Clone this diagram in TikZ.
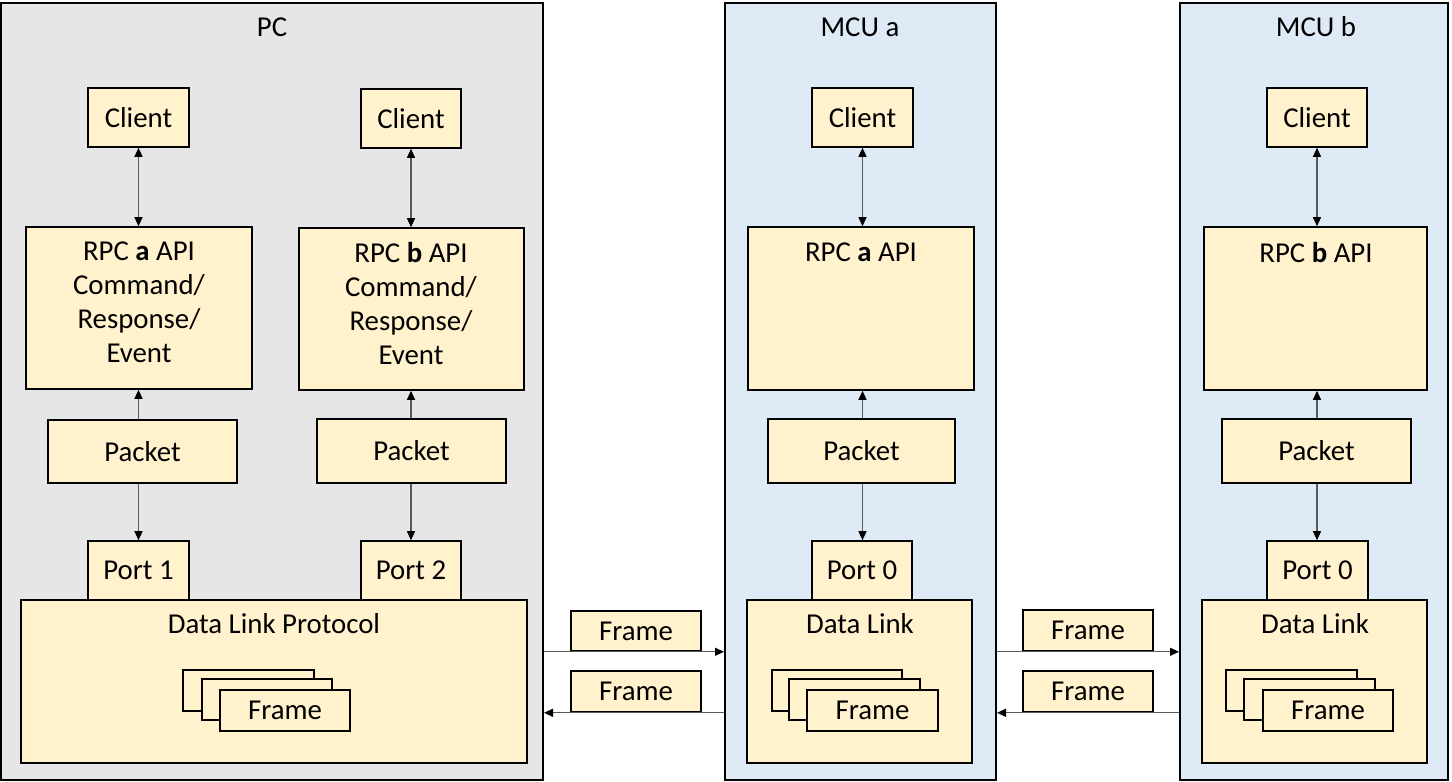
\documentclass[tikz,border=0pt]{standalone}
\usepackage{fontspec}
\setmainfont{Carlito}
\usetikzlibrary{fit,arrows.meta}
\definecolor{pcgray}{HTML}{E7E6E6}
\definecolor{mcublue}{HTML}{DEEBF7}
\definecolor{boxy}{HTML}{FFF2CC}
\definecolor{lineg}{HTML}{595959}
\begin{document}
\begin{tikzpicture}[x=0.5pt,y=-0.5pt,
  font=\fontsize{14.4pt}{17pt}\selectfont,
  panel/.style={draw=black, line width=1pt, inner sep=0pt},
  box/.style={draw=black, fill=boxy, line width=0.8pt, inner sep=0pt},
  txt/.style={inner sep=0pt, align=center},
  arr/.style={draw=lineg, line width=0.6pt, -{Triangle[length=4.5pt,width=4pt,color=black]}},
  darr/.style={draw=lineg, line width=0.6pt, {Triangle[length=4.5pt,width=4pt,color=black]}-{Triangle[length=4.5pt,width=4pt,color=black]}}]
\useasboundingbox (0,0) rectangle (1452,782);
% panels
\node[panel, fill=pcgray, fit={(1,3) (543,780)}] (pc) {};
\node[txt] (pct) at (272,27) {PC};
\node[panel, fill=mcublue, fit={(725,3) (996,780)}] (mcua) {};
\node[txt] (mcuat) at (860,27) {MCU a};
\node[panel, fill=mcublue, fit={(1180,3) (1448,780)}] (mcub) {};
\node[txt] (mcubt) at (1316,27) {MCU b};
% PC column 1
\node[box, fit={(88,88) (189,147)}, label={center:Client}] (cl1) {};
\node[box, fit={(26,227) (252,389)}] (rpc1) {};
\node[txt] (rpc1t) at (139,302) {RPC \textbf{a} API\\Command/\\Response/\\Event};
\node[box, fit={(48,420) (237,483)}, label={center:Packet}] (pk1) {};
\node[box, fit={(88,541) (189,600)}, label={center:Port 1}] (pt1) {};
% PC column 2
\node[box, fit={(361,89) (461,148)}, label={center:Client}] (cl2) {};
\node[box, fit={(299,228) (524,390)}] (rpc2) {};
\node[txt] (rpc2t) at (411,303) {RPC \textbf{b} API\\Command/\\Response/\\Event};
\node[box, fit={(317,419) (506,483)}, label={center:Packet}] (pk2) {};
\node[box, fit={(361,541) (461,600)}, label={center:Port 2}] (pt2) {};
% PC data link
\node[box, fit={(21,600) (527,763)}] (dl1) {};
\node[txt] (dl1t) at (274,624) {Data Link Protocol};
\node[box, fit={(183,670) (314,711)}] (fs1a) {};
\node[box, fit={(202,679) (332,720)}] (fs1b) {};
\node[box, fit={(220,690) (350,731)}, label={center:Frame}] (fs1c) {};
% MCU a
\node[box, fit={(812,88) (913,147)}, label={center:Client}] (cla) {};
\node[box, fit={(748,227) (974,390)}] (rpca) {};
\node[txt] (rpcat) at (861,252) {RPC \textbf{a} API};
\node[box, fit={(768,419) (955,483)}, label={center:Packet}] (pka) {};
\node[box, fit={(812,541) (912,600)}, label={center:Port 0}] (pta) {};
\node[box, fit={(747,600) (972,763)}] (dla) {};
\node[txt] (dlat) at (860,624) {Data Link};
\node[box, fit={(772,670) (902,711)}] (fsaa) {};
\node[box, fit={(789,679) (920,720)}] (fsab) {};
\node[box, fit={(807,690) (938,731)}, label={center:Frame}] (fsac) {};
% MCU b
\node[box, fit={(1267,88) (1367,147)}, label={center:Client}] (clb) {};
\node[box, fit={(1204,227) (1427,390)}] (rpcb) {};
\node[txt] (rpcbt) at (1316,252) {RPC \textbf{b} API};
\node[box, fit={(1222,419) (1411,483)}, label={center:Packet}] (pkb) {};
\node[box, fit={(1267,541) (1368,600)}, label={center:Port 0}] (ptb) {};
\node[box, fit={(1202,600) (1427,763)}] (dlb) {};
\node[txt] (dlbt) at (1315,624) {Data Link};
\node[box, fit={(1226,670) (1357,711)}] (fsba) {};
\node[box, fit={(1244,679) (1375,720)}] (fsbb) {};
\node[box, fit={(1263,690) (1393,731)}, label={center:Frame}] (fsbc) {};
% frames in transit
\node[box, fit={(571,611) (701,651)}, label={center:Frame}] (f1) {};
\node[box, fit={(571,671) (701,712)}, label={center:Frame}] (f2) {};
\node[box, fit={(1023,610) (1153,651)}, label={center:Frame}] (f3) {};
\node[box, fit={(1023,671) (1153,712)}, label={center:Frame}] (f4) {};
% vertical connectors
\foreach \c/\r/\p/\t in {cl1/rpc1/pk1/pt1, cl2/rpc2/pk2/pt2, cla/rpca/pka/pta, clb/rpcb/pkb/ptb}{
  \draw[darr] (\c.south) -- (\c.south |- \r.north);
  \draw[arr] (\c.south |- \p.north) -- (\c.south |- \r.south);
  \draw[arr] (\c.south |- \p.south) -- (\c.south |- \t.north);
}
% horizontal connectors
\draw[arr] (pc.east |- f1.south) -- (mcua.west |- f1.south);
\draw[arr] (mcua.west |- f2.south) -- (pc.east |- f2.south);
\draw[arr] (mcua.east |- f3.south) -- (mcub.west |- f3.south);
\draw[arr] (mcub.west |- f4.south) -- (mcua.east |- f4.south);
\end{tikzpicture}
\end{document}
